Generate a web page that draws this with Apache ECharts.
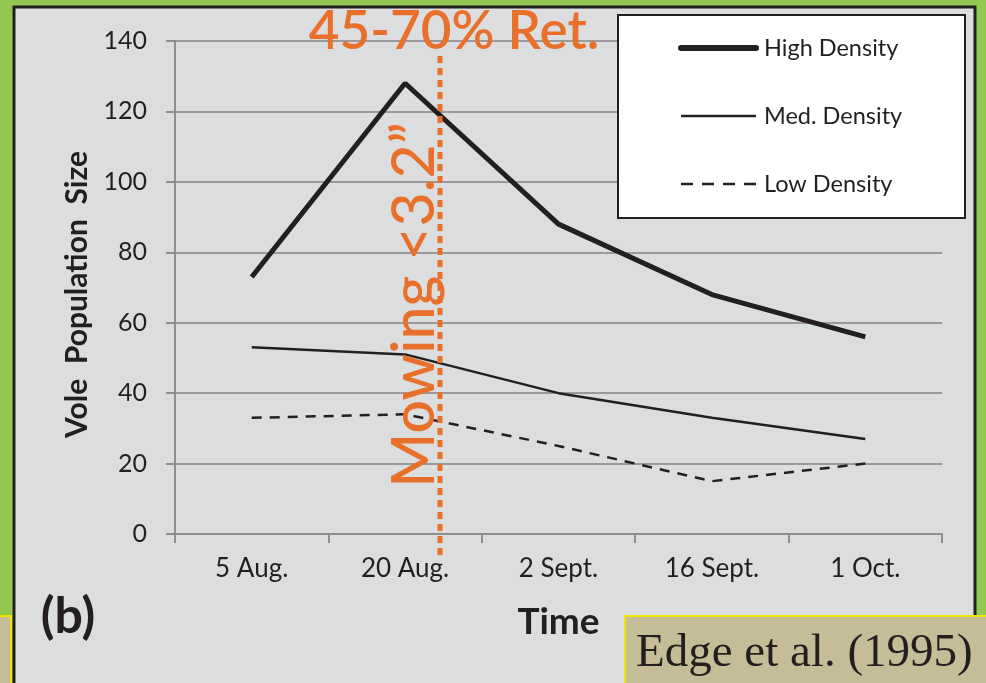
<!DOCTYPE html>
<html><head><meta charset="utf-8">
<script src="https://cdn.jsdelivr.net/npm/echarts@6/dist/echarts.min.js"></script>
<style>html,body{margin:0;padding:0;background:#92C850;}#c{width:986px;height:683px;}</style>
</head><body><div id="c"></div>
<script>
const categories = ['5 Aug.', '20 Aug.', '2 Sept.', '16 Sept.', '1 Oct.'];
const highDensity = [73, 128, 88, 68, 56];
const medDensity = [53, 51, 40, 33, 27];
const lowDensity = [33, 34, 25, 15, 20];
const yTicks = [0, 20, 40, 60, 80, 100, 120, 140];

const chart = echarts.init(document.getElementById('c'));
const sans = 'Lato, "Open Sans", sans-serif';
const orange = '#E8702A';
const ink = '#231F20';
chart.setOption({
  backgroundColor: '#92C850',
  animation: false,
  grid: {left: 175, top: 41, width: 767, height: 493, containLabel: false},
  xAxis: {
    type: 'category', data: categories, boundaryGap: true,
    axisLine: {lineStyle: {color: '#8E8E8E', width: 2}},
    axisTick: {show: true, length: 9, lineStyle: {color: '#8E8E8E', width: 2}},
    axisLabel: {color: ink, fontSize: 26, fontFamily: sans, margin: 22},
    name: 'Time', nameLocation: 'middle', nameGap: 70,
    nameTextStyle: {color: ink, fontSize: 37, fontWeight: 'bold', fontFamily: sans}
  },
  yAxis: {
    type: 'value', min: yTicks[0], max: yTicks[yTicks.length-1], interval: 20,
    axisLine: {show: true, lineStyle: {color: '#8E8E8E', width: 2}},
    axisTick: {show: true, length: 9, lineStyle: {color: '#8E8E8E', width: 2}},
    splitLine: {lineStyle: {color: '#9A9A9A', width: 2}},
    axisLabel: {color: ink, fontSize: 25, fontFamily: sans, margin: 28},
    name: 'Vole  Population  Size', nameLocation: 'middle', nameGap: 80, nameRotate: 90,
    nameTextStyle: {color: ink, fontSize: 30, fontWeight: 'bold', fontFamily: sans, padding: [0, 14, 0, 0]}
  },
  legend: {
    orient: 'vertical', left: 673, top: 30, itemWidth: 75, itemHeight: 14, itemGap: 42,
    z: 50,
    itemStyle: {opacity: 0},
    textStyle: {color: ink, fontSize: 23.5, fontFamily: sans, lineHeight: 26, padding: [0, 0, 0, 3]},
    data: [
      {name: 'High Density', lineStyle: {width: 6, cap: 'round'}},
      {name: 'Med. Density', lineStyle: {width: 2.5}},
      {name: 'Low Density', lineStyle: {width: 2.5, type: [12, 9]}}
    ]
  },
  series: [
    {name: 'High Density', type: 'line', data: highDensity, symbol: 'none', z: 5,
     lineStyle: {color: ink, width: 5}, itemStyle: {color: ink}},
    {name: 'Med. Density', type: 'line', data: medDensity, symbol: 'none', z: 5,
     lineStyle: {color: ink, width: 2.5}, itemStyle: {color: ink}},
    {name: 'Low Density', type: 'line', data: lowDensity, symbol: 'none', z: 5,
     lineStyle: {color: ink, width: 2.5, type: [10, 8]}, itemStyle: {color: ink}}
  ],
  graphic: [
    {type: 'rect', z: -10, shape: {x: 14, y: 7, width: 961, height: 700},
     style: {fill: '#DCDDDE', stroke: ink, lineWidth: 3}},
    {type: 'rect', z: 10, shape: {x: 618, y: 15, width: 347, height: 203},
     style: {fill: '#FFFFFF', stroke: ink, lineWidth: 2}},
    {type: 'line', z: 20, shape: {x1: 440, y1: 56, x2: 440, y2: 556},
     style: {stroke: orange, lineWidth: 5, lineDash: [7, 5]}},
    {type: 'text', z: 21, x: 454, y: 32,
     style: {text: '45-70% Ret.', fill: orange, font: '600 53px ' + sans, align: 'center', verticalAlign: 'middle'}},
    {type: 'text', z: 21, x: 415, y: 305, rotation: Math.PI / 2,
     style: {text: 'Mowing <3.2\u201D', fill: orange, font: '500 59px ' + sans, align: 'center', verticalAlign: 'middle'}},
    {type: 'text', z: 21, x: 68, y: 617,
     style: {text: '(b)', fill: ink, font: 'bold 50px ' + sans, align: 'center', verticalAlign: 'middle'}},
    {type: 'rect', z: 30, shape: {x: 625, y: 616, width: 370, height: 80},
     style: {fill: '#C5BD98', stroke: '#F2E600', lineWidth: 2}},
    {type: 'text', z: 31, x: 636, y: 654,
     style: {text: 'Edge et al. (1995)', fill: ink, font: '47px "Liberation Serif", "Times New Roman", serif', align: 'left', verticalAlign: 'middle'}},
    {type: 'rect', z: 30, shape: {x: -5, y: 616, width: 16, height: 80},
     style: {fill: '#C5BD98', stroke: '#F2E600', lineWidth: 2}}
  ]
});
</script></body></html>
